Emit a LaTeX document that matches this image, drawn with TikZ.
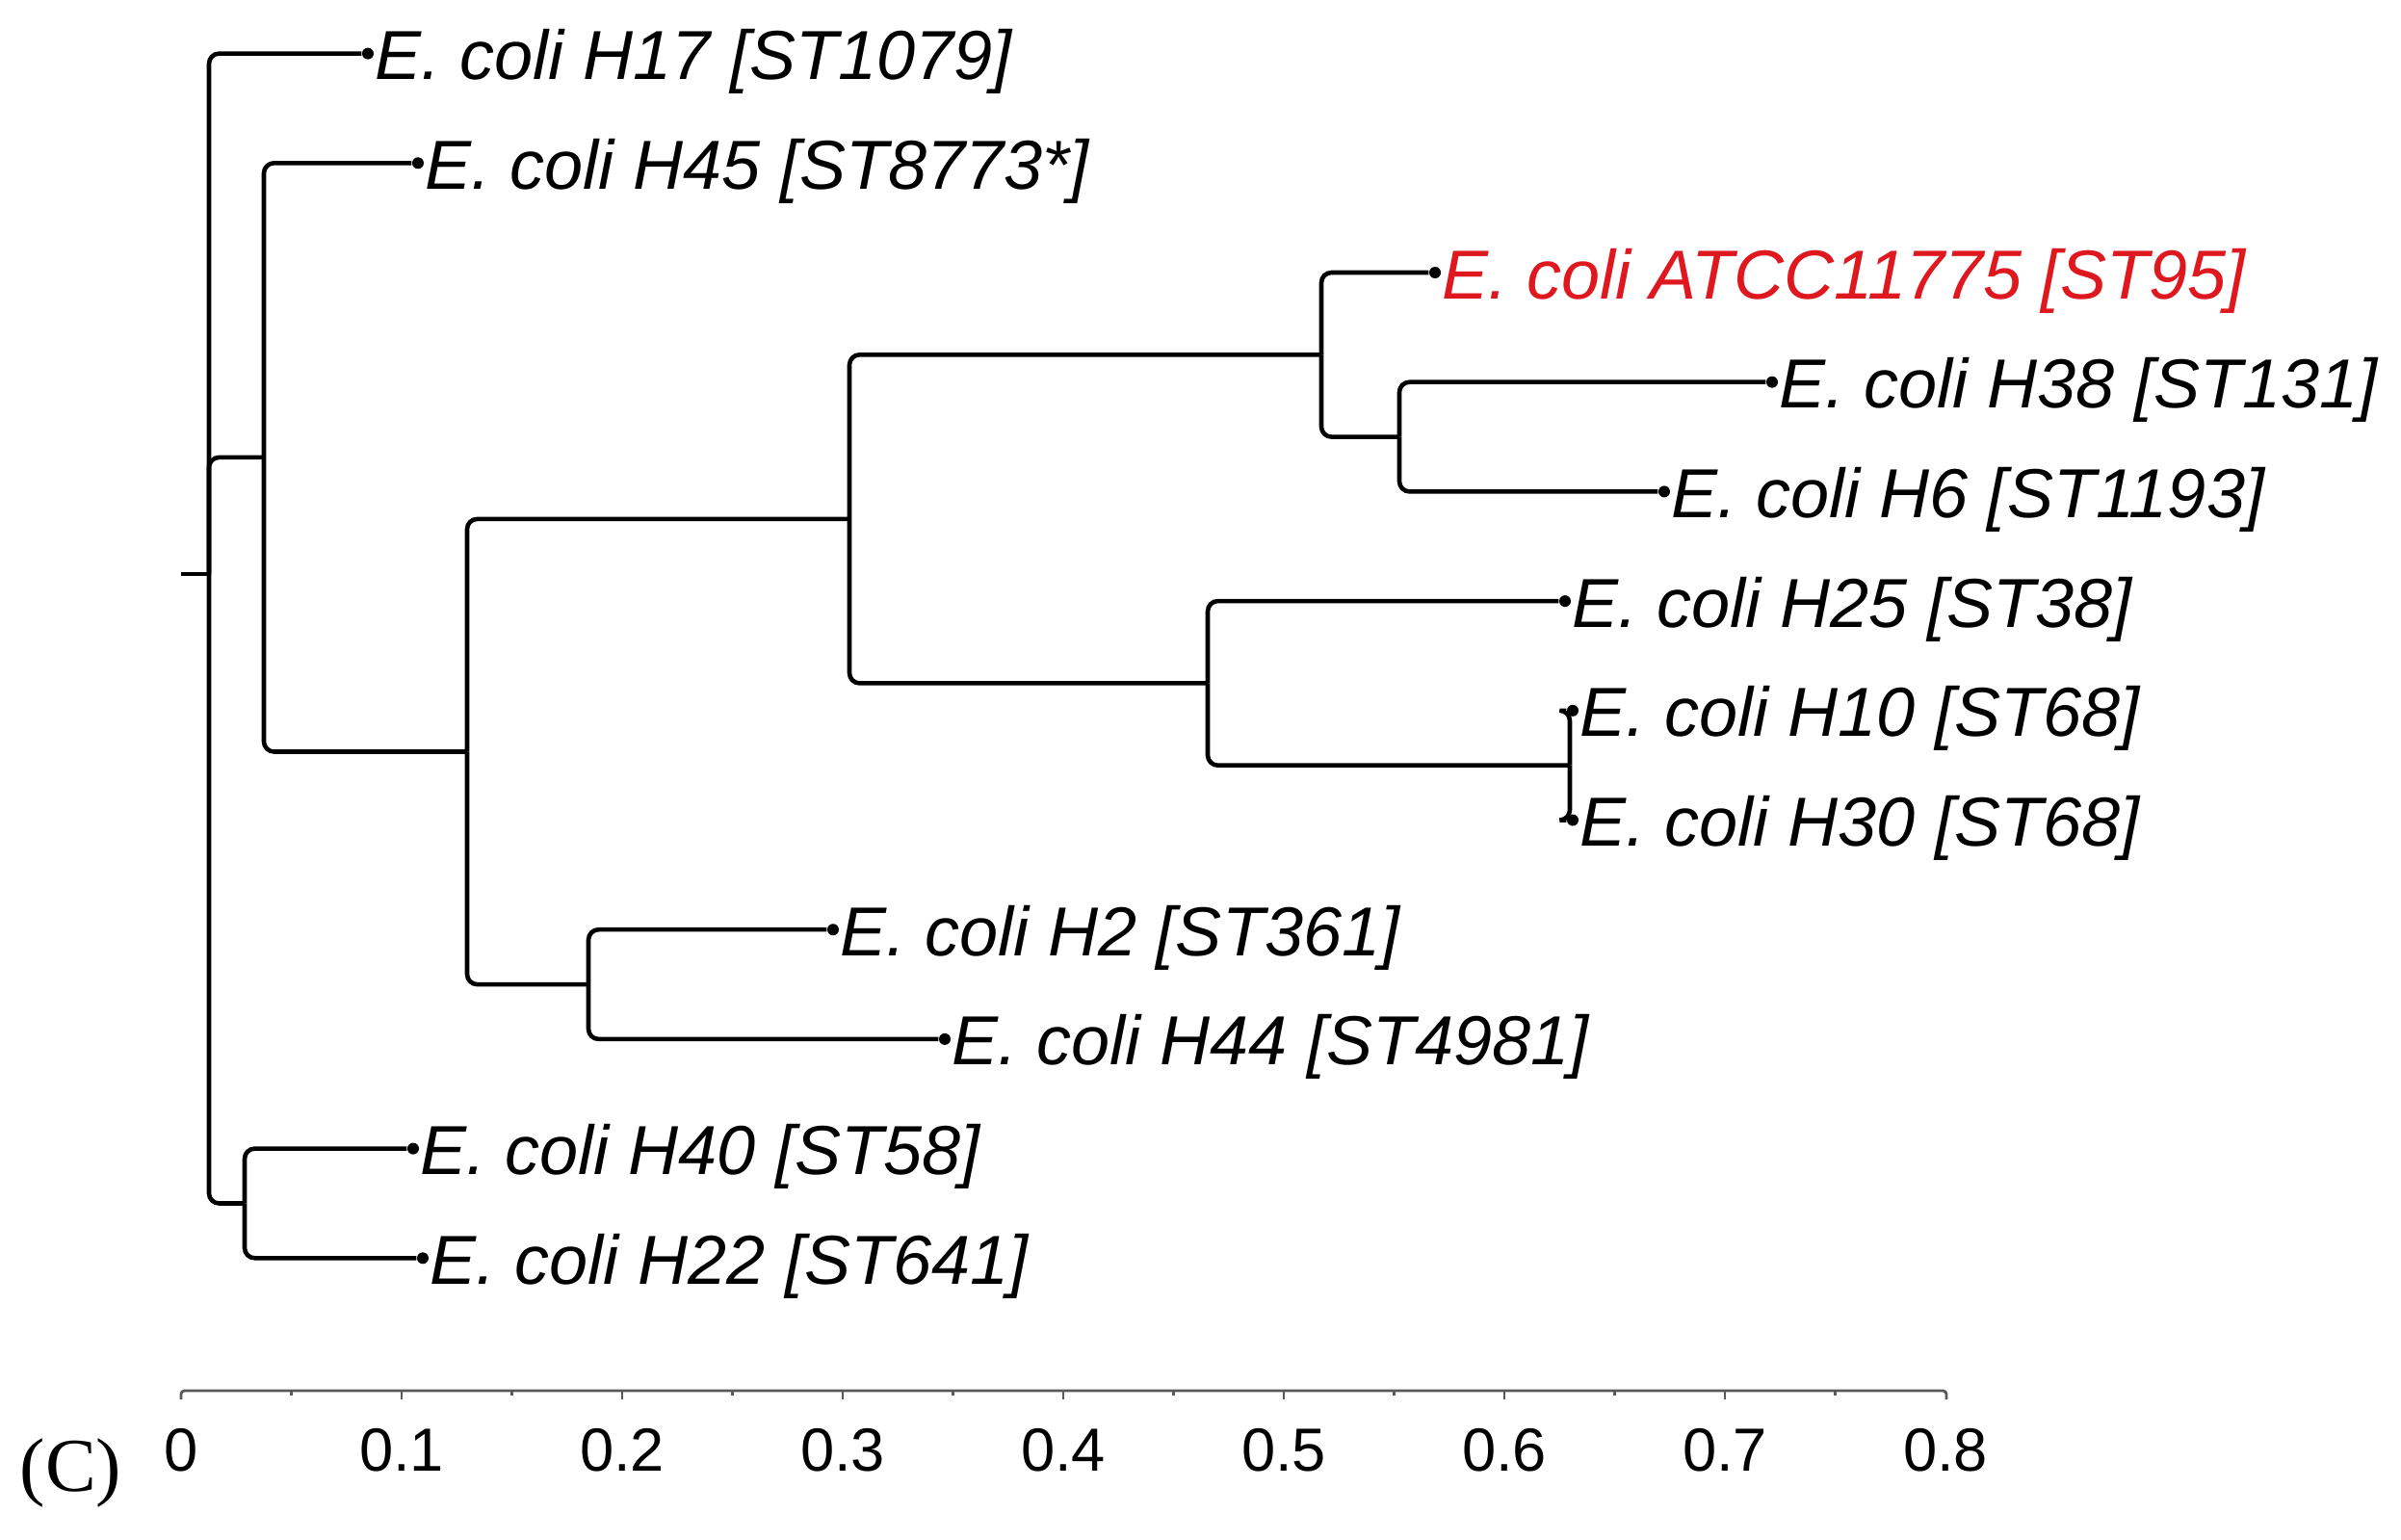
\documentclass[tikz,border=0pt]{standalone}
\usepackage{fontspec}
\setmainfont{Liberation Sans}
\newfontfamily\panelfont{Liberation Serif}
\usepackage{tikz}
\usetikzlibrary{calc}
\definecolor{refred}{RGB}{222,24,30}

\begin{document}
\begin{tikzpicture}[
  branch/.style={line width=1.3pt, rounded corners=3pt},
  tip/.style={circle, fill, inner sep=0pt, minimum size=0.12cm},
  taxon/.style={anchor=base west, inner sep=0pt, xshift=0.07cm, yshift=-0.27cm, font=\fontsize{20.5}{24}\selectfont\itshape},
  axisline/.style={line width=0.8pt, black!65, rounded corners=1pt},
  ticklab/.style={anchor=base, inner sep=0pt, font=\fontsize{18}{20}\selectfont}
]
\useasboundingbox (0,0) rectangle (24.93,-15.99);

\coordinate (stub) at (1.88,-5.96);
\coordinate (root) at (2.17,-5.96);
\coordinate (A) at (2.74,-4.749);
\coordinate (B) at (4.85,-7.805);
\coordinate (C) at (8.82,-5.389);
\coordinate (D) at (13.72,-3.683);
\coordinate (E) at (14.53,-4.536);
\coordinate (F) at (12.54,-7.094);
\coordinate (G) at (16.30,-7.947);
\coordinate (H) at (6.11,-10.221);
\coordinate (I) at (2.54,-12.495);

\node[tip] (h17) at (3.82,-0.556) {};
\node[tip] (h45) at (4.34,-1.693) {};
\node[tip] (atcc) at (14.90,-2.830) {};
\node[tip] (h38) at (18.40,-3.967) {};
\node[tip] (h6) at (17.28,-5.104) {};
\node[tip] (h25) at (16.25,-6.241) {};
\node[tip] (h10) at (16.33,-7.378) {};
\node[tip] (h30) at (16.33,-8.515) {};
\node[tip] (h2) at (8.65,-9.652) {};
\node[tip] (h44) at (9.81,-10.789) {};
\node[tip] (h40) at (4.29,-11.926) {};
\node[tip] (h22) at (4.39,-13.063) {};

\node[taxon] (h17lab) at (h17) {E. coli H17 [ST1079]};
\node[taxon] (h45lab) at (h45) {E. coli H45 [ST8773*]};
\node[taxon, text=refred] (atcclab) at (atcc) {E. coli ATCC11775 [ST95]};
\node[taxon] (h38lab) at (h38) {E. coli H38 [ST131]};
\node[taxon] (h6lab) at (h6) {E. coli H6 [ST1193]};
\node[taxon] (h25lab) at (h25) {E. coli H25 [ST38]};
\node[taxon] (h10lab) at (h10) {E. coli H10 [ST68]};
\node[taxon] (h30lab) at (h30) {E. coli H30 [ST68]};
\node[taxon] (h2lab) at (h2) {E. coli H2 [ST361]};
\node[taxon] (h44lab) at (h44) {E. coli H44 [ST4981]};
\node[taxon] (h40lab) at (h40) {E. coli H40 [ST58]};
\node[taxon] (h22lab) at (h22) {E. coli H22 [ST641]};

\draw[branch] (stub) -- (root);
\draw[branch] (root) |- (h17);
\draw[branch] (root) |- (A);
\draw[branch] (root) |- (I);
\draw[branch] (A) |- (h45);
\draw[branch] (A) |- (B);
\draw[branch] (B) |- (C);
\draw[branch] (B) |- (H);
\draw[branch] (C) |- (D);
\draw[branch] (C) |- (F);
\draw[branch] (D) |- (atcc);
\draw[branch] (D) |- (E);
\draw[branch] (E) |- (h38);
\draw[branch] (E) |- (h6);
\draw[branch] (F) |- (h25);
\draw[branch] (F) |- (G);
\draw[branch] (G) |- (h10);
\draw[branch] (G) |- (h30);
\draw[branch] (H) |- (h2);
\draw[branch] (H) |- (h44);
\draw[branch] (I) |- (h40);
\draw[branch] (I) |- (h22);

\draw[axisline] (1.88,-14.53) -- (1.88,-14.44) -- (20.21,-14.44) -- (20.21,-14.53);
\foreach \i in {1,...,7} \draw[axisline] ({1.88+\i*2.29},-14.44)--++(0,-0.09);
\foreach \i in {0,...,7} \draw[axisline] ({1.88+\i*2.29+1.145},-14.44)--++(0,-0.05);
\foreach \i/\lab in {0/0, 1/0.1, 2/0.2, 3/0.3, 4/0.4, 5/0.5, 6/0.6, 7/0.7, 8/0.8}
  \node[ticklab] (tick\i) at ({1.88+\i*2.29},-15.27) {\lab};

\node[anchor=base west, inner sep=0pt, font=\fontsize{22.5}{26}\selectfont\panelfont] (panel) at (0.2,-15.48) {(C)};
\end{tikzpicture}
\end{document}
